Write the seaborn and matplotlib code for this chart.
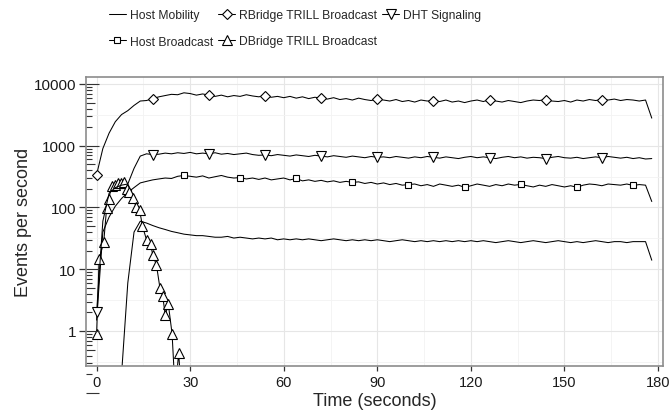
import numpy as np
import matplotlib
matplotlib.use("Agg")
import matplotlib.pyplot as plt
from matplotlib.ticker import FixedLocator, NullFormatter
import seaborn as sns

# time grids (seconds)
t_main = np.arange(0, 180, 2)   # 0 .. 178
t_mob = np.arange(8, 180, 2)    # 8 .. 178

host_mobility = [
    0.2, 6, 40, 60, 56, 51, 47, 44, 41, 39,
    37, 36, 35, 35, 34, 33, 33, 34, 32, 33,
    32, 31, 32, 31, 32, 30, 31, 30, 31, 30,
    31, 30, 29, 30, 31, 30, 29, 30, 29, 30,
    29, 30, 29, 28, 29, 30, 29, 28, 29, 28,
    29, 28, 29, 28, 29, 28, 29, 28, 29, 28,
    27, 28, 29, 28, 27, 28, 29, 28, 27, 28,
    29, 28, 27, 28, 27, 28, 29, 28, 27, 28,
    28, 27, 28, 28, 28, 14,
]

host_bcast = [
    1.5, 40, 70, 105, 140, 175, 210, 250, 265, 280,
    290, 300, 295, 320, 330, 320, 310, 325, 300, 315,
    330, 310, 300, 305, 290, 300, 285, 300, 280, 290,
    300, 280, 295, 270, 280, 265, 275, 260, 270, 255,
    265, 255, 260, 245, 255, 240, 250, 235, 245, 230,
    235, 240, 225, 235, 220, 240, 230, 220, 230, 212,
    225, 240, 230, 220, 235, 225, 240, 230, 236, 225,
    215, 230, 220, 235, 225, 215, 225, 212, 230, 240,
    235, 225, 240, 235, 230, 240, 228, 235, 230, 125,
]

rbridge = [
    340, 900, 1600, 2450, 3200, 3700, 4500, 5300, 5400, 5800,
    6200, 6500, 6800, 6700, 7200, 7000, 6600, 6900, 6600, 6300,
    6600, 6200, 6500, 6300, 6700, 6400, 6200, 6500, 6100, 6300,
    6000, 6300, 5900, 6200, 5800, 6100, 5900, 5700, 6000, 5600,
    5800, 5500, 5900, 5600, 5400, 5700, 5500, 5300, 5600, 5200,
    5400, 5100, 5500, 5300, 5400, 5200, 5500, 5100, 5300, 5000,
    5300, 5500, 5200, 5600, 5300, 5100, 5400, 5200, 5000, 5300,
    5500, 5400, 5600, 5300, 5200, 5400, 5100, 5500, 5300, 5600,
    5400, 5600, 5500, 5700, 5400, 5600, 5500, 5300, 5500, 2800,
]

dbridge_t = [0, 0.8, 2.3, 3.2, 3.9, 4.8, 5.8, 6.8, 7.7, 8.9,
             9.6, 10.3, 11.8, 12.7, 13.8, 14.7, 16.0, 17.3, 18.0, 19.2,
             20.3, 21.2, 22.0, 23.0, 24.2, 25.2, 26.3, 27.2]
dbridge = [0.9, 14.5, 28, 97, 138, 220, 235, 250, 250, 255,
           200, 175, 140, 100, 90, 50, 30, 26, 17, 11.6,
           5, 3.7, 1.8, 2.7, 0.9, 0.1, 0.44, 0.1]

dht = [
    2.0, 60, 170, 210, 230, 240, 430, 680, 740, 720,
    730, 760, 740, 770, 750, 780, 740, 760, 740, 770,
    730, 750, 720, 740, 760, 720, 700, 710, 690, 720,
    700, 680, 710, 690, 670, 700, 680, 660, 690, 670,
    650, 680, 660, 640, 670, 650, 660, 640, 670, 650,
    630, 660, 640, 670, 650, 630, 660, 640, 620, 650,
    670, 640, 660, 640, 620, 650, 670, 640, 660, 630,
    650, 640, 620, 650, 670, 640, 630, 650, 620, 640,
    660, 640, 670, 650, 630, 650, 620, 640, 610, 620,
]

sns.set_theme(style="whitegrid")
plt.rcParams["font.family"] = ["Liberation Sans", "DejaVu Sans"]

fig = plt.figure(figsize=(6.72, 4.14), dpi=100)
ax = fig.add_axes([86 / 672, 1 - 367 / 414, (663 - 86) / 672, (367 - 78) / 414])

common = dict(color="black", linewidth=0.75, markerfacecolor="white",
              markeredgecolor="black", markeredgewidth=0.8)

sns.lineplot(x=t_mob, y=host_mobility, ax=ax, label="Host Mobility", **common)
sns.lineplot(x=t_main, y=host_bcast, ax=ax, label="Host Broadcast",
             marker="s", markersize=4.5, markevery=(5, 9), **common)
sns.lineplot(x=t_main, y=rbridge, ax=ax, label="RBridge TRILL Broadcast",
             marker="D", markersize=5, markevery=9, **common)
sns.lineplot(x=dbridge_t, y=dbridge, ax=ax, label="DBridge TRILL Broadcast",
             marker="^", markersize=6.5, **common)
sns.lineplot(x=t_main, y=dht, ax=ax, label="DHT Signaling",
             marker="v", markersize=6.5, markevery=9, **common)

ax.set_yscale("log")

# log ticks along the left side (short / mid / long)
trans = ax.get_yaxis_transform()
for k in range(-1, 5):
    for m in range(1, 10):
        v = m * 10 ** k
        if v > 13000:
            break
        L = 0.0225 if m == 1 else (0.0156 if m == 5 else 0.0100)
        ax.plot([0, L], [v, v], transform=trans, color="#333333",
                lw=0.8, clip_on=False, solid_capstyle="butt")

ax.set_xlim(-3.4, 181.6)
ax.set_ylim(0.271, 12980)

ax.set_xticks([0, 30, 60, 90, 120, 150, 180])
ax.set_xticks([15, 45, 75, 105, 135, 165], minor=True)
ax.set_yticks([1, 10, 100, 1000, 10000], labels=["1", "10", "100", "1000", "10000"])
ax.yaxis.set_minor_locator(FixedLocator([10 ** (k + 0.5) for k in range(-1, 4)]))
ax.yaxis.set_minor_formatter(NullFormatter())

ax.grid(which="major", color="#e6e6e6", lw=0.8)
ax.grid(which="minor", color="#f3f3f3", lw=0.6)
ax.tick_params(which="minor", length=0)
ax.tick_params(axis="x", which="major", bottom=True, length=3.6, width=0.9,
               color="#333333", labelsize=10.5, labelcolor="#1a1a1a", pad=3)
ax.tick_params(axis="y", which="major", left=True, length=5, width=0.9,
               color="#333333", labelsize=11, labelcolor="#1a1a1a", pad=2)

for s in ax.spines.values():
    s.set_color("#8c8c8c")
    s.set_linewidth(1.2)

ax.set_xlabel("Time (seconds)", fontsize=13, labelpad=2)
ax.set_ylabel("Events per second", fontsize=13, labelpad=1)

handles, labels = ax.get_legend_handles_labels()
if ax.get_legend() is not None:
    ax.get_legend().remove()
fig.legend(handles, labels, loc="upper left", bbox_to_anchor=(109 / 672, 1 - 10 / 414),
           ncol=3, frameon=False, fontsize=8.7, handlelength=1.4, handletextpad=0.3,
           columnspacing=0.45, labelspacing=1.2, borderpad=0, borderaxespad=0)

fig.savefig("out.png", dpi=100)
